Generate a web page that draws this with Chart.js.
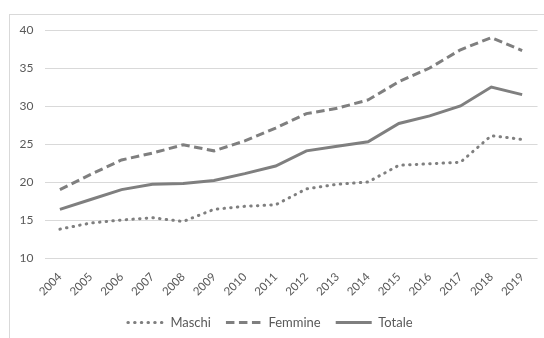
<!DOCTYPE html>
<html>
<head>
<meta charset="utf-8">
<script src="https://cdn.jsdelivr.net/npm/chart.js@4/dist/chart.umd.min.js"></script>
<style>
  html, body { margin: 0; padding: 0; background: #fff; overflow: hidden; }
  #frame { position: absolute; left: 9px; top: 14px; width: 700px; height: 500px; border: 1px solid #d9d9d9; }
  #wrap { position: absolute; left: 0; top: 0; width: 544px; height: 338px; }
</style>
</head>
<body>
<div id="frame"></div>
<div id="wrap"><canvas id="c" width="544" height="338"></canvas></div>
<script>
// Anni osservati
const anni = ['2004','2005','2006','2007','2008','2009','2010','2011','2012','2013','2014','2015','2016','2017','2018','2019'];

// Valori per sesso e totale
const maschi  = [13.8, 14.6, 15.0, 15.3, 14.8, 16.4, 16.8, 17.0, 19.1, 19.7, 20.0, 22.2, 22.4, 22.6, 26.1, 25.6];
const femmine = [19.0, 21.0, 22.9, 23.8, 24.9, 24.1, 25.4, 27.1, 29.0, 29.7, 30.8, 33.2, 35.0, 37.4, 39.0, 37.3];
const totale  = [16.4, 17.7, 19.0, 19.7, 19.8, 20.2, 21.1, 22.1, 24.1, 24.7, 25.3, 27.7, 28.7, 30.0, 32.5, 31.5];

// Asse verticale
const yMin = 10, yMax = 40, yStep = 5;

const grigio = '#7f7f7f';
const testo = '#595959';
const famiglia = 'Lato, "Noto Sans", sans-serif';

new Chart(document.getElementById('c'), {
  type: 'line',
  data: {
    labels: anni,
    datasets: [
      { label: 'Maschi', data: maschi, borderColor: grigio, backgroundColor: grigio,
        borderWidth: 3, borderDash: [0.5, 6.2], borderCapStyle: 'round', pointRadius: 0, tension: 0 },
      { label: 'Femmine', data: femmine, borderColor: grigio, backgroundColor: grigio,
        borderWidth: 3, borderDash: [8.5, 4.5], borderCapStyle: 'butt', pointRadius: 0, tension: 0 },
      { label: 'Totale', data: totale, borderColor: grigio, backgroundColor: grigio,
        borderWidth: 3, borderDash: [], borderCapStyle: 'butt', pointRadius: 0, tension: 0 }
    ]
  },
  options: {
    responsive: false,
    animation: false,
    layout: { padding: { left: 0, right: 3.5, top: 30, bottom: -1 } },
    plugins: {
      tooltip: { enabled: false },
      legend: {
        position: 'bottom',
        labels: {
          color: testo,
          font: { family: famiglia, size: 13 },
          usePointStyle: true,
          pointStyle: 'line',
          pointStyleWidth: 36,
          padding: 15,
          // legend swatches keep each series' own line pattern
          generateLabels: (chart) => chart.data.datasets.map((ds, i) => ({
            text: ds.label,
            datasetIndex: i,
            fillStyle: ds.borderColor,
            strokeStyle: ds.borderColor,
            fontColor: testo,
            lineWidth: ds.borderWidth,
            lineDash: ds.borderDash,
            lineCap: ds.borderCapStyle,
            pointStyle: 'line',
            hidden: !chart.isDatasetVisible(i)
          }))
        }
      }
    },
    scales: {
      x: {
        offset: true,
        grid: { display: false, drawTicks: false },
        border: { display: false },
        ticks: { color: testo, font: { family: famiglia, size: 11.5 }, maxRotation: 45, minRotation: 45, padding: 12, autoSkip: false },
        afterFit: (s) => { s.height = 43; }
      },
      y: {
        min: yMin, max: yMax,
        grid: { color: '#d9d9d9', lineWidth: 1, drawTicks: false },
        border: { display: false },
        ticks: { stepSize: yStep, color: testo, font: { family: famiglia, size: 12 }, padding: 11 },
        afterFit: (s) => { s.width = 44.5; }
      }
    }
  }
});
</script>
</body>
</html>
